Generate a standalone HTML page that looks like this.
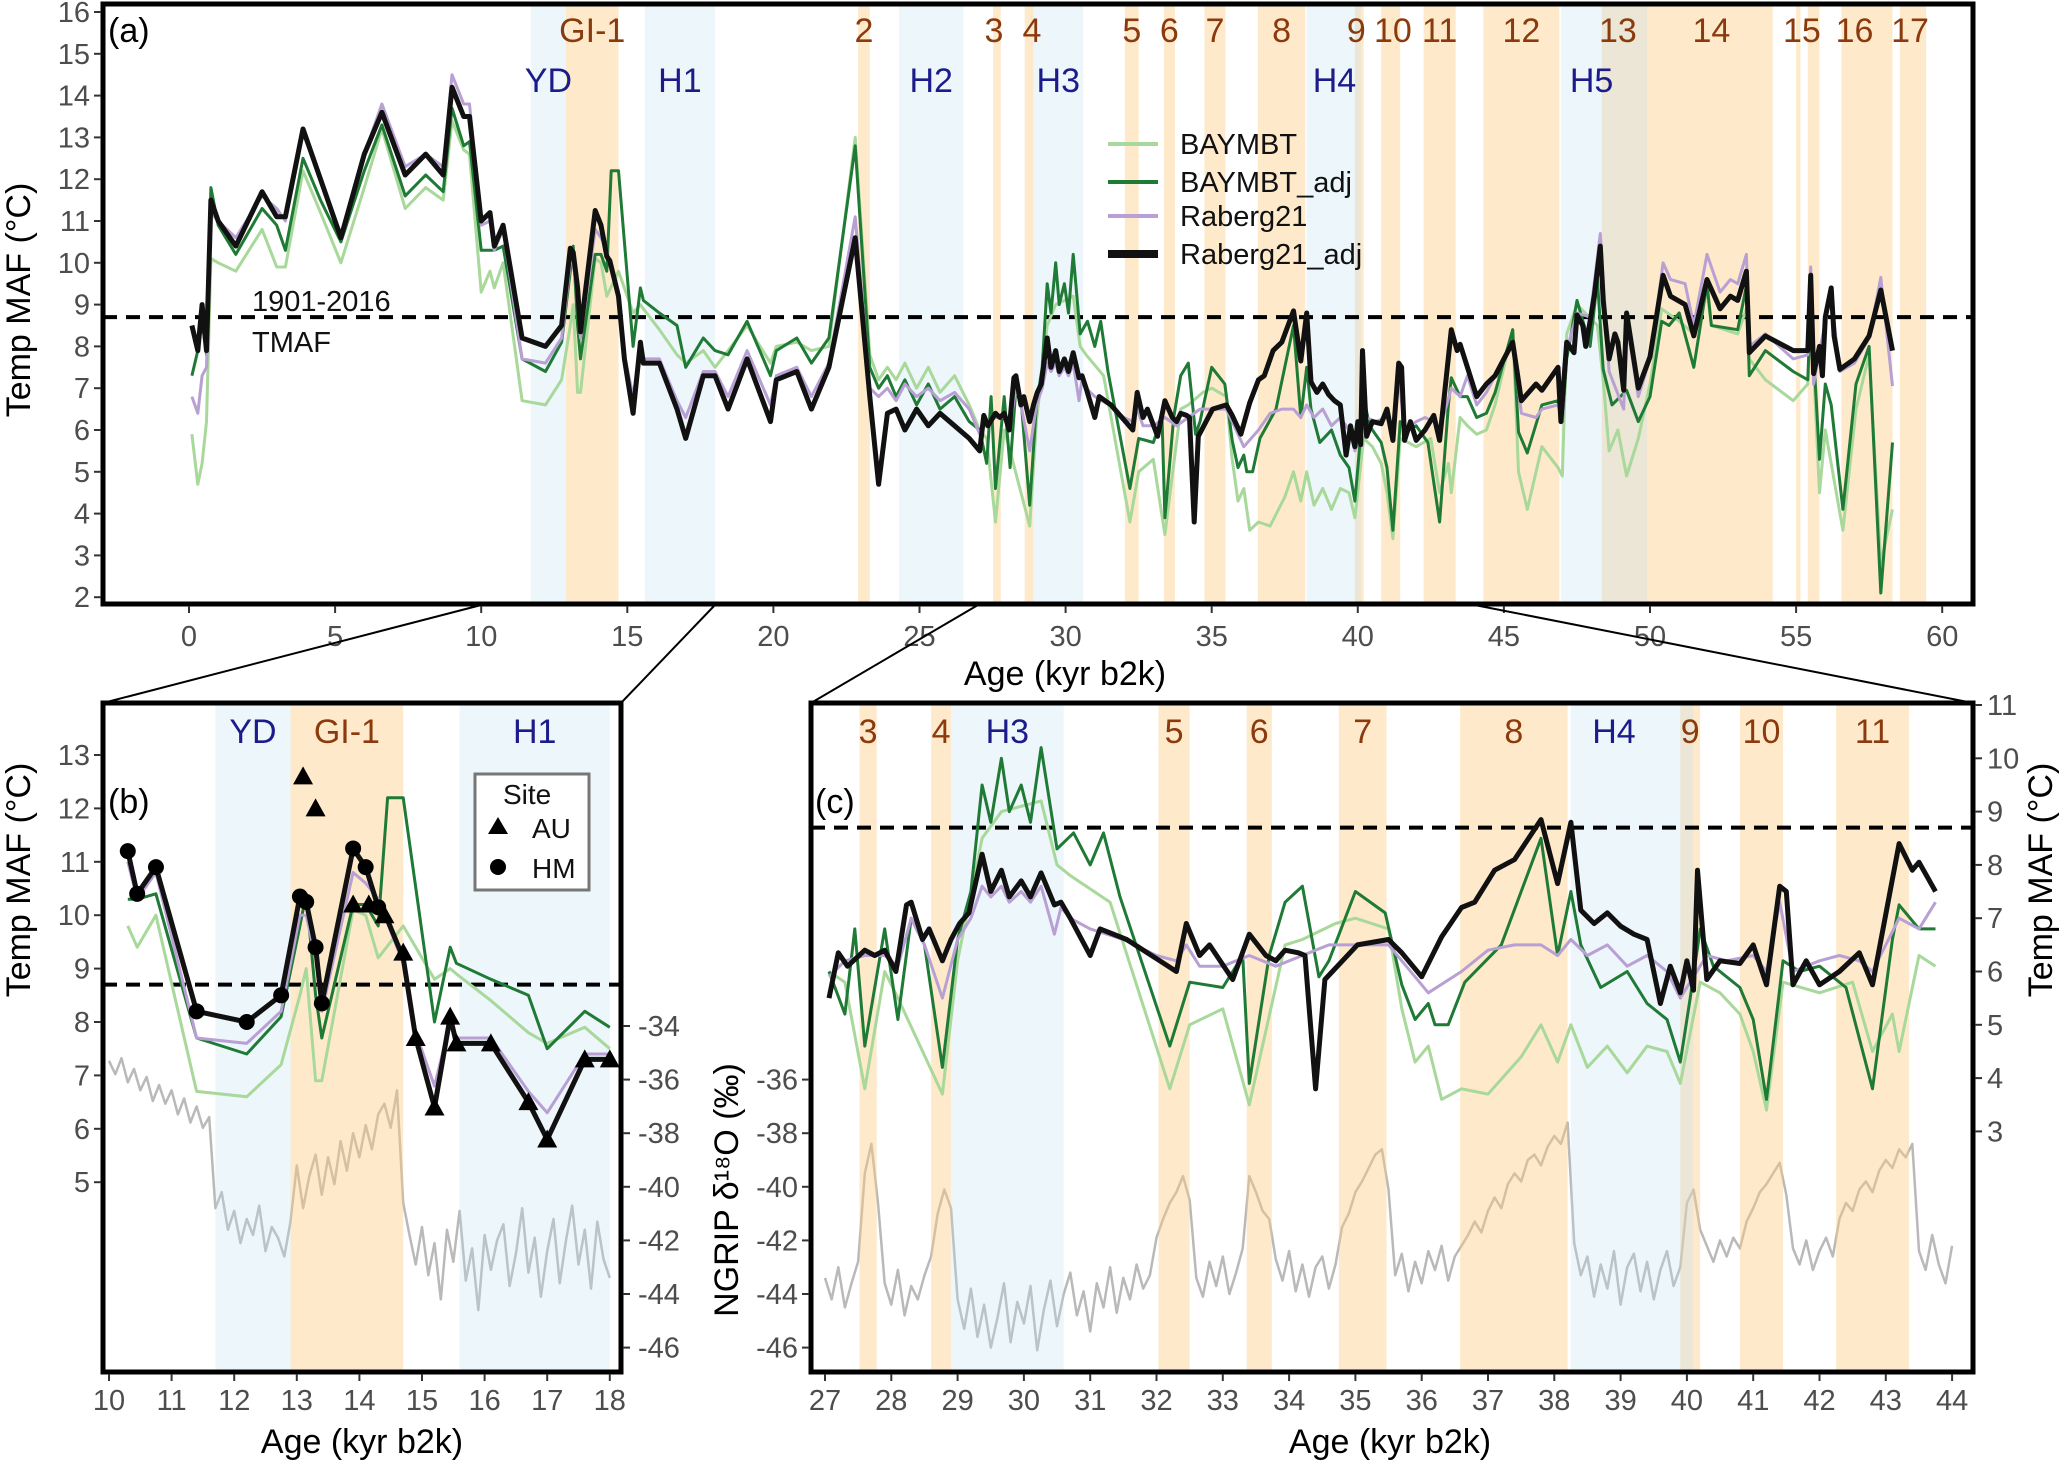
<!DOCTYPE html>
<html><head><meta charset="utf-8"><style>
html,body{margin:0;padding:0;background:#fff;}
svg{display:block;font-family:"Liberation Sans",sans-serif;}
</style></head><body>
<svg id="chart" width="2067" height="1463" viewBox="0 0 2067 1463" xmlns="http://www.w3.org/2000/svg">
<defs>
<clipPath id="clipA"><rect x="103" y="4" width="1870" height="600"/></clipPath>
<clipPath id="clipB"><rect x="103" y="703" width="518" height="669"/></clipPath>
<clipPath id="clipC"><rect x="811" y="703" width="1162" height="669"/></clipPath>
</defs>
</svg>
<script>
// ---------- data ----------
const blackAge=[0.1,0.3,0.45,0.6,0.75,1.0,1.6,2.5,3.0,3.3,3.9,4.5,5.2,6.0,6.6,7.4,8.1,8.7,9.0,9.4,9.6,10.0,10.3,10.45,10.75,11.4,12.2,12.75,13.05,13.15,13.3,13.4,13.9,14.1,14.3,14.4,14.7,14.9,15.2,15.45,15.55,16.1,16.7,17.0,17.6,18.0,18.45,19.1,19.9,20.1,20.8,21.3,21.9,22.8,23.3,23.6,23.9,24.2,24.5,24.9,25.3,25.7,26.2,26.7,
27.06,27.2,27.34,27.6,27.75,27.9,28.07,28.23,28.3,28.47,28.57,28.77,28.9,29.03,29.17,29.37,29.5,29.66,29.78,29.96,30.1,30.26,30.46,30.56,30.7,31.0,31.15,31.55,32.05,32.3,32.45,32.65,32.8,33.15,33.4,33.65,33.8,33.94,34.14,34.24,34.4,34.54,35.03,35.5,35.7,36.0,36.3,36.6,36.8,37.1,37.4,37.8,38.05,38.25,38.4,38.6,38.8,39.0,39.2,39.4,39.6,39.75,39.9,40.0,40.1,40.16,40.3,40.5,40.8,41.0,41.2,41.4,41.5,41.6,41.8,42.0,42.3,42.6,42.8,43.2,43.4,43.5,43.75,
44.07,44.4,44.7,45.3,45.6,46.1,46.3,46.85,46.95,47.15,47.4,47.5,47.7,47.8,47.95,48.1,48.3,48.4,48.6,48.8,48.9,49.1,49.2,49.6,50.0,50.45,50.7,51.2,51.5,51.95,52.4,52.75,53.0,53.3,53.4,53.95,54.9,55.4,55.5,55.6,55.8,55.9,56.0,56.2,56.3,56.5,57.0,57.5,57.9,58.3];
const rabergAdj=[8.5,7.9,9.0,7.9,11.5,11.0,10.4,11.7,11.1,11.1,13.2,12.0,10.6,12.6,13.6,12.1,12.6,12.1,14.2,13.5,13.5,11.0,11.2,10.4,10.9,8.2,8.0,8.5,10.35,10.25,9.4,8.35,11.25,10.9,10.15,10.05,9.2,7.7,6.4,8.1,7.6,7.6,6.5,5.8,7.3,7.3,6.5,7.7,6.2,7.2,7.4,6.5,7.5,10.6,6.8,4.7,6.4,6.5,6.0,6.5,6.1,6.4,6.1,5.8,
5.5,6.35,6.1,6.4,6.3,6.4,6.0,7.25,7.3,6.6,6.8,6.2,6.6,6.9,7.1,8.2,7.5,7.9,7.4,7.7,7.4,7.85,7.25,7.3,7.0,6.3,6.8,6.6,6.2,6.0,6.9,6.3,6.5,5.85,6.7,6.3,6.2,6.4,6.35,6.3,3.8,5.85,6.5,6.6,6.35,5.9,6.65,7.2,7.3,7.9,8.1,8.85,7.65,8.8,7.15,6.9,7.1,6.85,6.7,6.6,5.4,6.1,5.6,6.2,5.65,7.9,5.85,6.2,6.15,6.5,5.75,7.6,7.5,5.75,6.2,5.75,6.0,6.35,5.75,8.4,7.9,8.05,7.5,
6.8,7.1,7.3,8.1,6.7,7.1,6.95,7.5,6.2,8.1,7.85,8.75,8.5,8.0,8.6,9.25,10.4,9.1,7.7,8.3,8.1,6.95,8.8,7.0,7.75,9.7,9.2,9.0,8.25,9.6,8.9,9.2,9.1,9.8,7.85,8.25,7.9,7.9,9.7,7.35,8.0,7.3,8.7,9.4,8.25,7.45,7.7,8.25,9.35,7.9];

const purpleAge=[0.1,0.3,0.45,0.6,0.75,1.0,1.6,2.5,3.0,3.3,3.9,4.5,5.2,6.0,6.6,7.4,8.1,8.7,9.0,9.4,9.6,10.0,10.3,10.45,10.75,11.4,12.2,12.75,13.05,13.15,13.3,13.4,13.9,14.1,14.3,14.7,14.9,15.2,15.45,15.55,16.1,16.7,17.0,17.6,18.0,18.45,19.1,19.9,20.1,20.8,21.3,21.9,22.8,23.3,23.6,23.9,24.2,24.5,24.9,25.3,25.7,26.2,26.7,
27.06,27.3,27.6,27.9,28.1,28.3,28.5,28.77,29.0,29.2,29.37,29.5,29.66,29.78,29.96,30.1,30.26,30.46,30.56,30.7,31.0,31.5,32.0,32.3,32.45,32.65,33.0,33.4,33.8,34.2,34.6,35.0,35.5,35.7,36.1,36.6,37.0,37.4,37.8,38.05,38.25,38.5,38.8,39.1,39.4,39.7,39.9,40.1,40.3,40.6,41.0,41.2,41.4,41.6,42.0,42.3,42.6,42.8,43.2,43.5,43.75,
44.07,44.4,44.7,45.3,45.6,46.1,46.3,46.85,47.0,47.15,47.5,47.95,48.3,48.6,49.1,49.2,49.6,50.0,50.45,50.7,51.2,51.5,51.95,52.4,52.75,53.0,53.3,53.4,53.95,54.9,55.4,55.5,55.6,56.0,56.2,56.5,57.0,57.5,57.9,58.3];
const raberg=[6.8,6.4,7.3,7.5,11.2,11.0,10.6,11.6,11.3,11.0,13.1,12.0,10.6,12.6,13.8,12.3,12.6,12.3,14.5,13.8,13.8,10.9,11.0,10.3,10.8,7.7,7.6,8.2,10.0,10.0,9.2,8.2,10.8,10.6,10.3,9.1,7.8,6.8,8.0,7.7,7.7,6.7,6.3,7.4,7.4,6.8,7.9,6.6,7.3,7.5,6.8,7.6,11.1,7.0,6.8,7.0,6.7,7.1,6.8,7.0,6.7,6.9,6.5,
5.9,6.2,6.3,6.3,6.1,7.0,6.5,5.5,6.6,7.0,7.6,7.4,7.6,7.3,7.5,7.3,7.6,6.7,7.2,7.0,6.8,6.6,6.3,6.2,6.5,6.1,6.1,6.3,6.1,6.3,6.5,6.5,6.5,6.2,5.6,6.0,6.4,6.5,6.5,6.3,6.6,6.3,6.5,6.1,6.3,6.0,5.5,5.9,6.3,6.2,6.3,6.0,7.3,6.0,6.2,6.3,6.2,6.0,7.0,6.8,7.3,
6.6,6.9,7.3,8.1,6.4,6.3,6.5,6.6,6.2,7.9,8.8,8.7,10.7,7.4,6.5,8.6,6.8,7.7,10.0,9.6,9.5,8.5,10.2,9.3,9.6,9.5,10.2,8.0,8.3,7.7,7.8,9.9,7.1,8.6,9.2,7.4,7.6,8.2,9.65,7.05];

const adjAge=[0.1,0.3,0.45,0.6,0.75,1.0,1.6,2.5,3.0,3.3,3.9,4.5,5.2,6.0,6.6,7.4,8.1,8.7,9.0,9.4,9.6,10.0,10.3,10.45,10.75,11.4,12.2,12.75,13.05,13.15,13.3,13.4,13.9,14.1,14.3,14.45,14.7,15.2,15.45,15.55,16.1,16.7,17.0,17.6,18.0,18.45,19.1,19.9,20.1,20.8,21.3,21.9,22.8,23.3,23.6,23.9,24.2,24.5,24.9,25.3,25.7,26.2,26.7,
27.06,27.3,27.45,27.6,27.9,28.1,28.3,28.5,28.77,29.0,29.2,29.37,29.5,29.66,29.78,29.96,30.1,30.26,30.5,30.75,31.0,31.2,31.45,32.2,32.5,33.0,33.3,33.4,33.7,33.94,34.2,34.45,34.6,35.0,35.45,35.7,35.9,36.1,36.2,36.4,36.65,37.2,37.8,38.05,38.25,38.4,38.7,39.1,39.4,39.7,39.9,40.05,40.2,40.4,40.8,41.0,41.2,41.45,41.7,42.0,42.4,42.8,43.1,43.2,43.5,43.75,
44.07,44.4,44.7,45.3,45.5,45.8,46.3,46.85,47.0,47.15,47.5,47.95,48.2,48.4,48.7,49.2,49.6,50.0,50.4,50.65,51.0,51.5,51.95,52.1,53.0,53.3,53.4,53.95,54.9,55.4,55.5,55.8,56.0,56.2,56.6,57.05,57.5,57.9,58.3];
const baymbtAdj=[7.3,7.9,8.6,7.8,11.8,10.9,10.2,11.3,10.9,10.3,12.5,11.5,10.5,12.2,13.3,11.6,12.1,11.7,13.7,12.8,12.9,10.3,10.3,10.3,10.4,7.7,7.4,8.1,9.8,10.4,8.5,7.7,10.2,10.2,9.8,12.2,12.2,8.0,9.4,9.1,8.8,8.5,7.5,8.2,7.9,7.8,8.6,7.3,7.9,8.2,7.6,8.2,12.8,7.5,7.0,7.3,6.8,7.2,6.6,7.1,6.5,6.8,6.2,
6.0,5.2,6.8,4.6,6.8,5.1,7.0,6.5,4.2,6.6,7.5,9.5,8.8,10.0,9.0,9.5,8.8,10.2,8.3,8.6,8.0,8.6,7.4,4.6,5.8,5.7,6.3,3.9,6.3,7.3,7.6,5.9,6.2,7.5,7.1,5.75,5.1,5.4,5.0,5.0,5.8,6.5,8.5,6.3,7.5,6.5,5.7,6.0,5.4,5.1,4.3,5.5,6.8,6.1,5.7,5.1,3.6,6.2,6.0,6.1,5.7,3.8,6.6,7.25,6.8,6.8,
6.3,6.4,6.9,8.4,5.95,5.45,6.6,6.7,6.2,7.7,9.1,8.0,9.6,7.45,6.6,6.95,6.2,6.8,8.6,8.5,8.8,7.5,9.5,8.5,8.4,9.45,7.3,7.9,7.4,7.2,9.1,5.3,7.1,6.6,4.1,7.1,8.0,2.1,5.7];

const bayAge=[0.1,0.3,0.45,0.6,0.75,1.0,1.6,2.5,3.0,3.3,3.9,4.5,5.2,6.0,6.6,7.4,8.1,8.7,9.0,9.4,9.6,10.0,10.3,10.45,10.75,11.4,12.2,12.75,13.05,13.15,13.3,13.4,13.9,14.1,14.3,14.7,15.2,15.45,15.55,16.1,16.7,17.0,17.6,18.0,18.45,19.1,19.9,20.1,20.8,21.3,21.9,22.8,23.3,23.6,23.9,24.2,24.5,24.9,25.3,25.7,26.2,26.7,
27.06,27.3,27.6,27.9,28.1,28.77,29.0,29.37,29.66,30.26,30.5,30.7,31.3,32.2,32.5,33.0,33.4,33.94,34.2,34.7,35.0,35.5,35.7,35.9,36.1,36.3,36.6,37.0,37.5,37.8,38.05,38.25,38.5,38.8,39.1,39.4,39.7,39.9,40.2,40.5,40.8,41.0,41.2,41.45,42.0,42.5,42.8,43.1,43.2,43.5,43.75,
44.07,44.4,44.7,45.3,45.5,45.8,46.3,46.85,47.0,47.15,47.5,48.2,48.4,48.6,48.9,49.2,49.6,50.0,50.4,51.0,51.5,51.95,52.1,53.0,53.3,53.4,53.95,54.9,55.4,55.5,55.8,56.0,56.6,57.05,57.5,57.9,58.3];
const baymbt=[5.9,4.7,5.2,6.2,10.1,10.0,9.8,10.8,9.9,9.9,12.2,11.2,10.0,11.8,13.2,11.3,11.8,11.5,13.4,12.7,12.6,9.3,9.8,9.4,10.0,6.7,6.6,7.2,8.5,9.0,6.9,6.9,10.1,10.0,9.2,9.8,8.8,9.0,8.9,8.4,7.8,7.6,7.9,7.5,7.9,8.5,7.6,8.0,8.1,7.9,8.0,13.0,7.8,7.2,7.5,7.2,7.6,7.0,7.5,6.9,7.3,6.6,
6.0,5.8,3.8,6.0,5.5,3.7,6.2,8.5,9.0,9.2,8.0,7.8,7.3,3.8,5.0,5.3,3.5,6.5,6.6,6.9,7.0,6.8,5.3,4.3,4.6,3.6,3.8,3.7,4.4,5.0,4.3,5.0,4.2,4.6,4.1,4.6,4.5,3.9,5.8,5.6,5.2,4.5,3.4,5.8,5.6,5.8,4.5,5.2,4.5,6.3,6.1,
5.9,6.0,6.6,8.4,5.0,4.1,5.6,5.1,4.9,8.3,9.0,8.5,7.2,5.5,6.0,4.9,5.8,7.1,8.9,8.6,8.3,9.3,8.5,8.3,8.9,7.7,7.2,6.7,7.1,8.9,4.5,6.0,3.6,6.5,7.8,2.8,4.1];

// NGRIP d18O, sampled every 0.1 kyr
const ngripBStart=10.0;
const ngripB=[-35.3,-35.8,-35.2,-36.1,-35.6,-36.4,-35.9,-36.8,-36.2,-36.9,-36.4,-37.3,-36.7,-37.6,-37.0,-37.8,
-37.4,-40.8,
-40.2,-41.6,-40.9,-42.1,-41.2,-41.8,-40.7,-42.4,-41.5,-41.9,-42.6,-41.3,
-39.2,-40.8,-39.6,-38.8,-40.3,-38.9,-39.9,-38.3,-39.4,-38.0,-38.9,-37.7,-38.6,-37.3,-36.9,-37.8,-36.4,
-40.6,-41.8,-42.9,-41.5,-43.3,-42.1,-44.2,-41.6,-42.8,-40.9,-43.5,-42.3,-44.6,-41.8,-43.1,-42.0,-41.4,-43.7,-42.5,-40.8,-43.2,-41.9,-44.1,-42.4,-41.2,-43.6,-42.0,-40.7,-42.9,-41.6,-43.8,-41.3,-42.7,-43.4];
const ngripCStart=27.0;
const ngripC=[-43.4,-44.2,-43.0,-44.5,-43.6,-42.8,
-39.5,-38.4,-40.6,
-43.6,-44.4,-43.1,-44.8,-43.7,-44.2,-43.3,-42.6,
-41.0,-40.1,-40.8,
-44.2,-45.3,-43.8,-45.6,-44.4,-46.0,-44.9,-43.6,-45.8,-44.3,-45.1,-43.7,-46.1,-44.6,-43.5,-45.2,-44.0,-43.2,-44.8,-43.9,-45.4,-43.6,-44.5,-43.0,-44.7,-43.4,-44.2,-42.9,-43.8,-43.3,
-41.9,-41.2,-40.6,-40.2,-39.6,-40.5,
-43.4,-44.1,-42.8,-43.7,-42.6,-44.0,-43.2,-42.3,
-39.6,-40.2,-40.9,-41.2,
-42.7,-43.5,-42.4,-43.9,-42.9,-44.1,-43.0,-42.6,-43.8,-42.9,
-41.5,-41.0,-40.2,-39.8,-39.3,-38.8,-38.6,-40.1,
-43.3,-42.5,-43.9,-42.8,-43.6,-42.4,-43.1,-42.2,-43.5,-42.6,
-42.2,-41.8,-41.3,-41.7,-40.9,-40.4,-40.8,-39.9,-39.5,-39.8,-39.0,-38.8,-39.2,-38.5,-38.1,-38.4,-37.6,
-42.1,-43.3,-42.6,-44.1,-42.9,-43.8,-42.4,-44.4,-43.0,-42.5,-43.9,-42.8,-44.2,-43.1,-42.4,-43.7,-43.0,
-40.6,-40.1,-41.6,
-42.2,-42.8,-42.0,-42.6,-41.9,-42.3,
-41.3,-40.8,-40.2,-39.9,-39.5,-39.1,-40.3,
-42.3,-42.9,-42.0,-43.1,-42.4,-41.9,-42.6,
-41.2,-40.6,-40.9,-40.1,-39.8,-40.2,-39.4,-39.0,-39.3,-38.6,-38.9,-38.4,
-42.4,-43.1,-41.8,-42.9,-43.6,-42.2];

const auAge=[13.1,13.3,13.9,14.15,14.4,14.7,14.9,15.2,15.45,15.55,16.1,16.7,17.0,17.6,18.0];
const auTemp=[12.6,12.0,10.2,10.2,10.0,9.3,7.7,6.4,8.1,7.6,7.6,6.5,5.8,7.3,7.3];
const hmAge=[10.3,10.45,10.75,11.4,12.2,12.75,13.05,13.15,13.3,13.4,13.9,14.1,14.3];
const hmTemp=[11.2,10.4,10.9,8.2,8.0,8.5,10.35,10.25,9.4,8.35,11.25,10.9,10.15];

// interstadial (orange) and stadial / Heinrich (blue) intervals
const giLabels=['GI-1','2','3','4','5','6','7','8','9','10','11','12','13','14','15','15','16','17'];
const giStart=[12.9,22.9,27.52,28.6,32.03,33.36,34.75,36.58,39.9,40.8,42.25,44.3,48.35,50.0,55.0,55.4,56.55,58.55];
const giEnd=[14.7,23.3,27.78,28.9,32.5,33.74,35.47,38.2,40.2,41.45,43.35,46.9,50.0,54.2,55.15,55.8,58.3,59.45];
const hsLabels=['YD','H1','H2','H3','H4','H5'];
const hsStart=[11.7,15.6,24.3,28.9,38.25,46.95];
const hsEnd=[12.9,18.0,26.5,30.6,40.1,49.9];
const tmaf=8.7;
const aXTicks=[0,5,10,15,20,25,30,35,40,45,50,55,60];
const aYTicks=[2,3,4,5,6,7,8,9,10,11,12,13,14,15,16];
const bXTicks=[10,11,12,13,14,15,16,17,18];
const bYTicks=[5,6,7,8,9,10,11,12,13];
const d18Ticks=[-34,-36,-38,-40,-42,-44,-46];
const cXTicks=[27,28,29,30,31,32,33,34,35,36,37,38,39,40,41,42,43,44];
const cYTicks=[3,4,5,6,7,8,9,10,11];

// ---------- drawing ----------
const svg=document.getElementById('chart');
const NS='http://www.w3.org/2000/svg';
function mk(tag,attrs,parent){const e=document.createElementNS(NS,tag);for(const k in attrs)e.setAttribute(k,attrs[k]);(parent||svg).appendChild(e);return e;}
function txt(s,attrs,parent){const e=mk('text',attrs,parent);e.textContent=s;return e;}

const P={
 a:{x:a=>189+a*29.22,y:t=>12+(16-t)*41.8,d:null,L:103,R:1973,T:4,B:604,lo:0,hi:60,clip:'clipA'},
 b:{x:a=>109+(a-10)*62.6,y:t=>755+(13-t)*53.4,d:v=>1026+(-34-v)*26.8,L:103,R:621,T:703,B:1372,lo:10.2,hi:18.1,clip:'clipB'},
 c:{x:a=>825+(a-27)*66.3,y:t=>705+(11-t)*53.3,d:v=>1026+(-34-v)*26.8,L:811,R:1973,T:703,B:1372,lo:27.0,hi:44.0,clip:'clipC'}
};
const ORANGE='rgba(253,205,130,0.42)', BLUE='rgba(185,222,240,0.27)';

function polyPts(p,ages,vals,fy){let s=[];for(let i=0;i<ages.length;i++){if(ages[i]<p.lo||ages[i]>p.hi)continue;s.push(p.x(ages[i]).toFixed(1)+','+fy(vals[i]).toFixed(1));}return s.join(' ');}

function drawBands(key,p,g){
 for(let i=0;i<giStart.length;i++){
  if(giEnd[i]<p.lo-0.5||giStart[i]>p.hi+0.5)continue;
  const x0=p.x(giStart[i]),x1=p.x(giEnd[i]);
  const r=mk('rect',{x:x0,y:p.T,width:x1-x0,height:p.B-p.T,fill:ORANGE},g);
  
  
 }
 for(let i=0;i<hsStart.length;i++){
  if(hsEnd[i]<p.lo-0.5||hsStart[i]>p.hi+0.5)continue;
  const x0=p.x(hsStart[i]),x1=p.x(hsEnd[i]);
  const r=mk('rect',{x:x0,y:p.T,width:x1-x0,height:p.B-p.T,fill:BLUE},g);
  
  
 }
}

function drawSeries(p,g,suffix){
 const sets=[[bayAge,baymbt,'#a8d89a',3,'baymbt-line'],[adjAge,baymbtAdj,'#1f7a35',3,'baymbt-adj-line'],[purpleAge,raberg,'#b9a0d4',3,'raberg21-line'],[blackAge,rabergAdj,'#111',5,'raberg21-adj-line']];
 for(const s of sets){
  const l=mk('polyline',{points:polyPts(p,s[0],s[1],p.y),fill:'none',stroke:s[2],'stroke-width':s[3],'stroke-linejoin':'round'},g);
  
  
 }
}

function frame(p,name){
 const r=mk('rect',{x:p.L,y:p.T,width:p.R-p.L,height:p.B-p.T,fill:'none',stroke:'#000','stroke-width':5});
 
 
}
function dashed(p,y,name,g){
 const l=mk('line',{x1:p.L,x2:p.R,y1:y,y2:y,stroke:'#000','stroke-width':4,'stroke-dasharray':'14,9'},g);
 
 
}
const TICK='#333', LAB='#4d4d4d', FS=29;

// ===== panel a =====
const gA=mk('g',{'clip-path':'url(#clipA)'});


drawBands('a',P.a,gA);
dashed(P.a,P.a.y(tmaf),'tmaf-reference-line-a',gA);
drawSeries(P.a,gA,'a');
frame(P.a,'panel-a-frame');
for(const t of aXTicks){
 const x=P.a.x(t);
 const tk=mk('line',{x1:x,x2:x,y1:606,y2:613,stroke:TICK,'stroke-width':2});
 
 
 const lb=txt(String(t),{x:x,y:646,'font-size':FS,fill:LAB,'text-anchor':'middle'});
 
 
}
for(const t of aYTicks){
 const y=P.a.y(t);
 const tk=mk('line',{x1:94,x2:101,y1:y,y2:y,stroke:TICK,'stroke-width':2});
 
 
 const lb=txt(String(t),{x:90,y:y+10,'font-size':FS,fill:LAB,'text-anchor':'end'});
 
 
}
// band labels
for(let i=0;i<giLabels.length;i++){
 if(i===14)continue;
 let cx=P.a.x((giStart[i]+giEnd[i])/2);
 if(giLabels[i]==='15')cx=P.a.x(55.2);
 if(giLabels[i]==='3')cx=P.a.x(27.55);
 if(giLabels[i]==='4')cx=P.a.x(28.85);
 if(giLabels[i]==='9')cx=P.a.x(39.95);
 if(giLabels[i]==='10')cx=P.a.x(41.2);
 if(giLabels[i]==='11')cx=P.a.x(42.8);
 if(giLabels[i]==='13')cx=P.a.x(48.9);
 if(giLabels[i]==='16')cx=P.a.x(57.0);
 if(giLabels[i]==='17')cx=P.a.x(58.9);
 const lb=txt(giLabels[i],{x:cx,y:42,'font-size':34,fill:'#8b3a0e','text-anchor':'middle'});
 
 
}
for(let i=0;i<hsLabels.length;i++){
 let cx=P.a.x((hsStart[i]+hsEnd[i])/2);
 if(hsLabels[i]==='H5')cx=P.a.x(48.0);
 if(hsLabels[i]==='H4')cx=P.a.x(39.2);
 const lb=txt(hsLabels[i],{x:cx,y:92,'font-size':34,fill:'#1b1b8a','text-anchor':'middle'});
 
 
}
let e;
e=txt('(a)',{x:108,y:42,'font-size':34,fill:'#000'});


e=txt('1901-2016',{x:252,y:311,'font-size':29,fill:'#111'});


e=txt('TMAF',{x:252,y:352,'font-size':29,fill:'#111'});


e=txt('Temp MAF (°C)',{x:0,y:0,'font-size':34,fill:'#000','text-anchor':'middle',transform:'translate(30,300) rotate(-90)'});


e=txt('Age (kyr b2k)',{x:1065,y:685,'font-size':34,fill:'#000','text-anchor':'middle'});


// legend
const legItems=[['BAYMBT','#a8d89a',4],['BAYMBT_adj','#1f7a35',4],['Raberg21','#b9a0d4',4],['Raberg21_adj','#111',8]];
const legY=[144,182,216,254];
const gL=mk('g',{});


for(let i=0;i<legItems.length;i++){
 e=mk('line',{x1:1108,x2:1158,y1:legY[i],y2:legY[i],stroke:legItems[i][1],'stroke-width':legItems[i][2]},gL);
 
 
 e=txt(legItems[i][0],{x:1180,y:legY[i]+10,'font-size':29,fill:'#111'},gL);
 
 
}

// connectors
const conn=[[P.a.x(10),605,103,703],[P.a.x(18),605,621,703],[P.a.x(27),605,811,703],[P.a.x(44),605,1973,703]];
for(const c of conn){
 e=mk('line',{x1:c[0],y1:c[1],x2:c[2],y2:c[3],stroke:'#000','stroke-width':2});
 
 
}

// ===== panels b & c =====
function lower(key,ngrip,start){
 const p=P[key];
 const g=mk('g',{'clip-path':'url(#'+p.clip+')'});
 
 
 let pts=[];for(let i=0;i<ngrip.length;i++){pts.push(p.x(start+i*0.1).toFixed(1)+','+p.d(ngrip[i]).toFixed(1));}
 const ng=mk('polyline',{points:pts.join(' '),fill:'none',stroke:'#b9b9b9','stroke-width':2.5,'stroke-linejoin':'round'},g);
 
 
 drawBands(key,p,g);
 dashed(p,p.y(tmaf),'tmaf-reference-line-'+key,g);
 drawSeries(p,g,key);
 return g;
}
const gB=lower('b',ngripB,ngripBStart);
for(let i=0;i<hmAge.length;i++){
 const m=mk('circle',{cx:P.b.x(hmAge[i]),cy:P.b.y(hmTemp[i]),r:8,fill:'#000'},gB);
 
 
}
for(let i=0;i<auAge.length;i++){
 const x=P.b.x(auAge[i]),y=P.b.y(auTemp[i]);
 const m=mk('polygon',{points:`${x},${y-10} ${x-10},${y+8} ${x+10},${y+8}`,fill:'#000'},gB);
 
 
}
frame(P.b,'panel-b-frame');
const gSL=mk('g',{});


e=mk('rect',{x:475,y:774,width:114,height:116,fill:'#fff',stroke:'#777','stroke-width':3},gSL);


e=txt('Site',{x:503,y:804,'font-size':28,fill:'#111'},gSL);


e=mk('polygon',{points:'498,817 488,834 508,834',fill:'#000'},gSL);


e=txt('AU',{x:532,y:838,'font-size':28,fill:'#111'},gSL);


e=mk('circle',{cx:498,cy:867,r:8,fill:'#000'},gSL);


e=txt('HM',{x:532,y:878,'font-size':28,fill:'#111'},gSL);



const gC=lower('c',ngripC,ngripCStart);
frame(P.c,'panel-c-frame');

function labelsLower(key,list,lab,col){
 const p=P[key];
 for(let i=0;i<list.length;i++){
  let cx=p.x((list[i][0]+list[i][1])/2);
  const t=txt(list[i][2],{x:cx,y:743,'font-size':34,fill:col,'text-anchor':'middle'});
  
  
 }
}
labelsLower('b',[[hsStart[0],hsEnd[0],'YD'],[hsStart[1],hsEnd[1],'H1']],'stadial-label-b','#1b1b8a');
labelsLower('b',[[giStart[0],giEnd[0],'GI-1']],'interstadial-label-b','#8b3a0e');
labelsLower('c',[[hsStart[3],hsEnd[3],'H3'],[38.6,39.2,'H4']],'stadial-label-c','#1b1b8a');
const cGi=[];for(let i=2;i<=10;i++)cGi.push([giStart[i],giEnd[i],giLabels[i]]);
labelsLower('c',cGi,'interstadial-label-c','#8b3a0e');
e=txt('(b)',{x:108,y:813,'font-size':34,fill:'#000'});


e=txt('(c)',{x:815,y:813,'font-size':34,fill:'#000'});



function xticks(key,ticks){
 const p=P[key];
 for(const t of ticks){
  const x=p.x(t);
  const tk=mk('line',{x1:x,x2:x,y1:1374,y2:1381,stroke:TICK,'stroke-width':2});
  
  
  const lb=txt(String(t),{x:x,y:1410,'font-size':FS,fill:LAB,'text-anchor':'middle'});
  
  
 }
}
xticks('b',bXTicks);xticks('c',cXTicks);
for(const t of bYTicks){
 const y=P.b.y(t);
 e=mk('line',{x1:94,x2:101,y1:y,y2:y,stroke:TICK,'stroke-width':2});
 
 
 e=txt(String(t),{x:90,y:y+10,'font-size':FS,fill:LAB,'text-anchor':'end'});
 
 
}
for(const t of d18Ticks){
 const y=P.b.d(t);
 e=mk('line',{x1:623,x2:630,y1:y,y2:y,stroke:TICK,'stroke-width':2});
 
 
 e=txt(String(t),{x:638,y:y+10,'font-size':FS,fill:LAB});
 
 
 if(t<=-36){
  const y2=P.c.d(t);
  e=mk('line',{x1:802,x2:809,y1:y2,y2:y2,stroke:TICK,'stroke-width':2});
  
  
  e=txt(String(t),{x:798,y:y2+10,'font-size':FS,fill:LAB,'text-anchor':'end'});
  
  
 }
}
for(const t of cYTicks){
 const y=P.c.y(t);
 e=mk('line',{x1:1975,x2:1982,y1:y,y2:y,stroke:TICK,'stroke-width':2});
 
 
 e=txt(String(t),{x:1987,y:y+10,'font-size':FS,fill:LAB});
 
 
}
e=txt('Temp MAF (°C)',{x:0,y:0,'font-size':34,fill:'#000','text-anchor':'middle',transform:'translate(30,880) rotate(-90)'});


e=txt('NGRIP δ\u00B9\u2078O (‰)',{x:0,y:0,'font-size':34,fill:'#000','text-anchor':'middle',transform:'translate(738,1190) rotate(-90)'});


e=txt('Temp MAF (°C)',{x:0,y:0,'font-size':34,fill:'#000','text-anchor':'middle',transform:'translate(2052,880) rotate(-90)'});


e=txt('Age (kyr b2k)',{x:362,y:1453,'font-size':34,fill:'#000','text-anchor':'middle'});


e=txt('Age (kyr b2k)',{x:1390,y:1453,'font-size':34,fill:'#000','text-anchor':'middle'});


</script>
</body></html>
